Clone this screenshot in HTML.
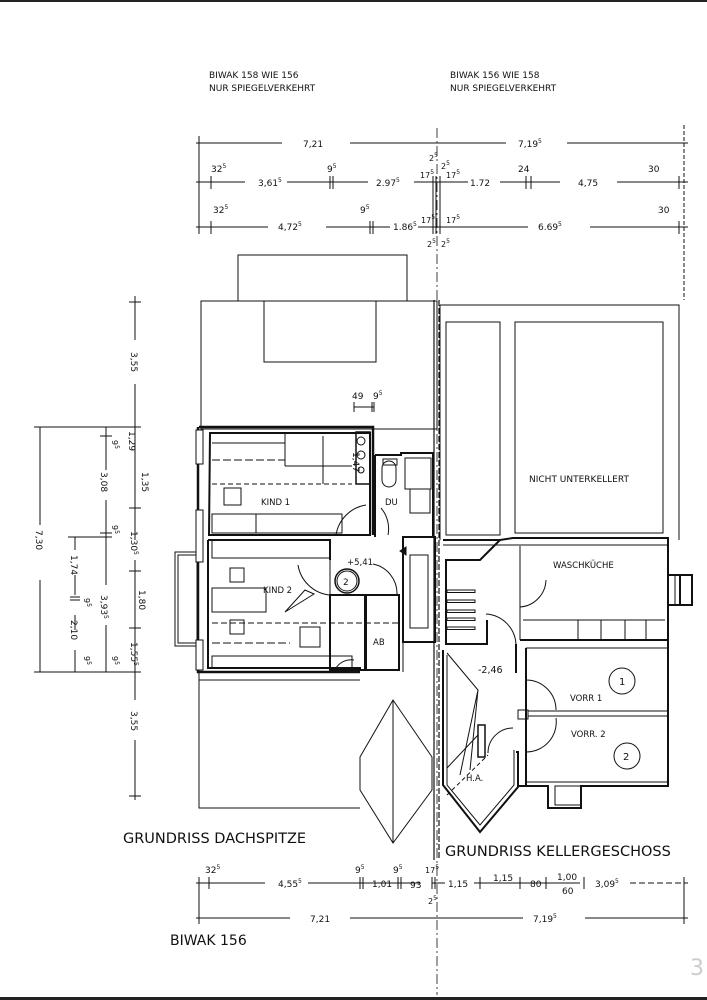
<!DOCTYPE html>
<html><head><meta charset="utf-8"><style>
html,body{margin:0;padding:0;background:#fff}
svg{display:block}
text{font-family:"DejaVu Sans","Liberation Sans",sans-serif;fill:#111}
</style></head><body>
<svg width="707" height="1000" viewBox="0 0 707 1000" xmlns="http://www.w3.org/2000/svg">
<rect x="0" y="0" width="707" height="2" fill="#222"/>
<rect x="0" y="997" width="707" height="3" fill="#222"/>
<text x="209" y="78" font-size="9">BIWAK 158 WIE 156</text>
<text x="209" y="91" font-size="9">NUR SPIEGELVERKEHRT</text>
<text x="450" y="78" font-size="9">BIWAK 156 WIE 158</text>
<text x="450" y="91" font-size="9">NUR SPIEGELVERKEHRT</text>

<g stroke="#111" stroke-width="1" fill="none">
<line x1="196" y1="143" x2="282" y2="143"/><line x1="350" y1="143" x2="506" y2="143"/><line x1="567" y1="143" x2="688" y2="143"/>
<line x1="196" y1="182" x2="245" y2="182"/><line x1="287" y1="182" x2="368" y2="182"/><line x1="414" y1="182" x2="468" y2="182"/><line x1="500" y1="182" x2="560" y2="182"/><line x1="617" y1="182" x2="688" y2="182"/>
<line x1="196" y1="227" x2="268" y2="227"/><line x1="326" y1="227" x2="390" y2="227"/><line x1="418" y1="227" x2="528" y2="227"/><line x1="590" y1="227" x2="688" y2="227"/>
<line x1="199" y1="136" x2="199" y2="234"/><line x1="684" y1="125" x2="684" y2="300" stroke-dasharray="4,2"/>
<line x1="211" y1="176" x2="211" y2="189"/><line x1="211" y1="221" x2="211" y2="234"/>
<line x1="330" y1="176" x2="330" y2="189"/><line x1="333" y1="176" x2="333" y2="189"/>
<line x1="370" y1="221" x2="370" y2="234"/><line x1="373" y1="221" x2="373" y2="234"/>
<line x1="526" y1="176" x2="526" y2="189"/><line x1="531" y1="176" x2="531" y2="189"/>
<line x1="679" y1="176" x2="679" y2="189"/><line x1="679" y1="221" x2="679" y2="234"/>
<line x1="433" y1="176" x2="433" y2="234"/><line x1="436" y1="176" x2="436" y2="234"/><line x1="440" y1="176" x2="440" y2="234"/>
<line x1="437" y1="128" x2="437" y2="995" stroke-dasharray="10,3,2,3" stroke-width="0.8"/>
</g>
<g font-size="9">
<text x="303" y="147">7,21</text><text x="518" y="147">7,19<tspan font-size="6" dy="-4">5</tspan></text>
<text x="211" y="172">32<tspan font-size="6" dy="-4">5</tspan></text>
<text x="258" y="186">3,61<tspan font-size="6" dy="-4">5</tspan></text>
<text x="327" y="172">9<tspan font-size="6" dy="-4">5</tspan></text>
<text x="376" y="186">2.97<tspan font-size="6" dy="-4">5</tspan></text>
<text x="429" y="161" font-size="8">2<tspan font-size="6" dy="-4">5</tspan></text>
<text x="420" y="178" font-size="8">17<tspan font-size="6" dy="-4">5</tspan></text>
<text x="441" y="169" font-size="8">2<tspan font-size="6" dy="-4">5</tspan></text>
<text x="446" y="178" font-size="8">17<tspan font-size="6" dy="-4">5</tspan></text>
<text x="470" y="186">1.72</text>
<text x="518" y="172">24</text>
<text x="578" y="186">4,75</text>
<text x="648" y="172">30</text>
<text x="213" y="213">32<tspan font-size="6" dy="-4">5</tspan></text>
<text x="278" y="230">4,72<tspan font-size="6" dy="-4">5</tspan></text>
<text x="360" y="213">9<tspan font-size="6" dy="-4">5</tspan></text>
<text x="393" y="230">1.86<tspan font-size="6" dy="-4">5</tspan></text>
<text x="421" y="223" font-size="8">17<tspan font-size="6" dy="-4">5</tspan></text>
<text x="446" y="223" font-size="8">17<tspan font-size="6" dy="-4">5</tspan></text>
<text x="538" y="230">6.69<tspan font-size="6" dy="-4">5</tspan></text>
<text x="658" y="213">30</text>
<text x="427" y="247" font-size="8">2<tspan font-size="6" dy="-4">5</tspan></text>
<text x="441" y="247" font-size="8">2<tspan font-size="6" dy="-4">5</tspan></text>
</g>

<g stroke="#111" stroke-width="1" fill="none">
<line x1="135" y1="296" x2="135" y2="340"/><line x1="135" y1="384" x2="135" y2="540"/><line x1="135" y1="560" x2="135" y2="700"/><line x1="135" y1="740" x2="135" y2="800"/>
<line x1="129" y1="302" x2="141" y2="302"/><line x1="129" y1="427" x2="141" y2="427"/><line x1="129" y1="508" x2="141" y2="508"/><line x1="129" y1="571" x2="141" y2="571"/><line x1="129" y1="628" x2="141" y2="628"/><line x1="129" y1="672" x2="141" y2="672"/><line x1="129" y1="796" x2="141" y2="796"/>
<line x1="34" y1="427" x2="140" y2="427"/><line x1="34" y1="672" x2="140" y2="672"/>
<line x1="40" y1="427" x2="40" y2="525"/><line x1="40" y1="580" x2="40" y2="672"/>
<line x1="106" y1="427" x2="106" y2="470"/><line x1="106" y1="500" x2="106" y2="585"/><line x1="106" y1="625" x2="106" y2="672"/>
<line x1="100" y1="533" x2="112" y2="533"/><line x1="100" y1="436" x2="112" y2="436"/>
<line x1="75" y1="537" x2="75" y2="550"/><line x1="75" y1="575" x2="75" y2="595"/><line x1="75" y1="615" x2="75" y2="630"/><line x1="75" y1="650" x2="75" y2="672"/>
<line x1="68" y1="537" x2="112" y2="537"/><line x1="70" y1="597" x2="80" y2="597"/><line x1="70" y1="600" x2="80" y2="600"/>
</g>
<g font-size="9">
<text transform="translate(131,352) rotate(90)">3,55</text>
<text transform="translate(131,711) rotate(90)">3,55</text>
<text transform="translate(129,431) rotate(90)">1,29</text>
<text transform="translate(142,472) rotate(90)">1,35</text>
<text transform="translate(131,531) rotate(90)">1,30<tspan font-size="6" dy="-3">5</tspan></text>
<text transform="translate(139,590) rotate(90)">1,80</text>
<text transform="translate(131,642) rotate(90)">1,55<tspan font-size="6" dy="-3">5</tspan></text>
<text transform="translate(101,472) rotate(90)">3,08</text>
<text transform="translate(101,595) rotate(90)">3,93<tspan font-size="6" dy="-3">5</tspan></text>
<text transform="translate(71,555) rotate(90)">1,74</text>
<text transform="translate(71,620) rotate(90)">2,10</text>
<text transform="translate(36,530) rotate(90)">7,30</text>
<text transform="translate(112,440) rotate(90)" font-size="8">9<tspan font-size="6" dy="-3">5</tspan></text>
<text transform="translate(112,525) rotate(90)" font-size="8">9<tspan font-size="6" dy="-3">5</tspan></text>
<text transform="translate(84,598) rotate(90)" font-size="8">9<tspan font-size="6" dy="-3">5</tspan></text>
<text transform="translate(84,656) rotate(90)" font-size="8">9<tspan font-size="6" dy="-3">5</tspan></text>
<text transform="translate(112,656) rotate(90)" font-size="8">9<tspan font-size="6" dy="-3">5</tspan></text>
</g>

<g stroke="#111" fill="none" stroke-width="1">
<rect x="238" y="255" width="169" height="46"/>
<rect x="201" y="301" width="236" height="128"/>
<rect x="264" y="301" width="112" height="61"/>
<line x1="354" y1="407" x2="374" y2="407"/>
<line x1="354" y1="402" x2="354" y2="412"/><line x1="372" y1="402" x2="372" y2="412"/><line x1="374" y1="402" x2="374" y2="412"/>
<path d="M199 427 H373 V535 M198 427 V672 H360" stroke-width="2.5"/>
<path d="M210 433 H370 V535 H209 Z" stroke-width="2"/>
<rect x="356" y="432" width="14" height="52" stroke-width="1.5"/>
<circle cx="361" cy="441" r="4"/><circle cx="361" cy="455" r="4"/><circle cx="361" cy="470" r="3"/>
<path d="M375 455 H401 V453 H433 V537 H403 M375 455 V537" stroke-width="2"/>
<line x1="285" y1="433" x2="285" y2="466"/><line x1="285" y1="466" x2="352" y2="466"/>
<line x1="212" y1="443" x2="285" y2="443"/>
<line x1="212" y1="484" x2="352" y2="484" stroke-dasharray="5,3"/>
<line x1="212" y1="460" x2="285" y2="460" stroke-dasharray="8,3"/>
<rect x="212" y="514" width="130" height="19"/><line x1="256" y1="514" x2="256" y2="533"/>
<rect x="224" y="488" width="17" height="17"/>
<line x1="323" y1="436" x2="323" y2="484"/>
<path d="M336 535 A36 36 0 0 1 366 505" /><path d="M388 535 A32 32 0 0 0 381 508"/>
<rect x="382" y="461" width="14" height="26" rx="7"/><rect x="383" y="459" width="14" height="6"/>
<rect x="405" y="458" width="26" height="31"/><rect x="410" y="489" width="20" height="24"/>
<path d="M208 540 H330 V560 M208 540 V668 H361" stroke-width="2"/>
<rect x="212" y="540" width="118" height="18"/>
<line x1="330" y1="560" x2="330" y2="595"/>
<path d="M298 565 A36 36 0 0 0 329 595"/>
<rect x="230" y="568" width="14" height="14"/><rect x="212" y="588" width="54" height="24"/>
<rect x="230" y="620" width="14" height="14"/><rect x="300" y="627" width="20" height="20"/>
<line x1="212" y1="623" x2="400" y2="623" stroke-dasharray="6,3"/>
<line x1="212" y1="643" x2="290" y2="643" stroke-dasharray="8,3"/>
<rect x="212" y="656" width="140" height="12"/>
<path d="M285 612 L305 590 L314 594 Z"/>
<rect x="330" y="595" width="35" height="75" stroke-width="2"/>
<rect x="366" y="595" width="33" height="75" stroke-width="2"/>
<path d="M336 668 A18 18 0 0 1 354 660"/>
<circle cx="347" cy="581" r="12" stroke-width="1.5"/><circle cx="347" cy="581" r="10"/>
<path d="M373 564 A30 30 0 0 1 397 594"/>
<path d="M403 537 H435 V642 H403 Z" stroke-width="2"/><rect x="410" y="555" width="18" height="73"/>
<path d="M406 555 L400 551 L406 547 Z" fill="#111"/>
<line x1="403" y1="642" x2="403" y2="672"/>
<rect x="175" y="552" width="22" height="94"/><rect x="178" y="555" width="19" height="88"/>
<rect x="196" y="430" width="7" height="34" fill="#fff"/><rect x="196" y="510" width="7" height="52" fill="#fff"/><rect x="196" y="640" width="7" height="30" fill="#fff"/>
<path d="M199 672 V808 H360"/><line x1="199" y1="680" x2="360" y2="680"/>
<path d="M360 757 L393 700 L432 757 L432 790 L393 843 L360 790 Z"/><line x1="393" y1="700" x2="393" y2="843"/>
<line x1="434" y1="300" x2="434" y2="860" stroke-width="1.2"/>
</g>
<g font-size="8.5">
<text x="261" y="505">KIND 1</text><text x="385" y="505">DU</text>
<text x="263" y="593">KIND 2</text><text x="373" y="645">AB</text>
<text x="347" y="565">+5,41</text><text x="343" y="585" font-size="9">2</text>
<text transform="translate(353,452) rotate(90)" font-size="9">1,47</text>
<text x="352" y="399" font-size="9">49</text><text x="373" y="399" font-size="9">9<tspan font-size="6" dy="-4">5</tspan></text>
</g>

<g stroke="#111" fill="none" stroke-width="1">
<path d="M440 305 H679 V540"/><line x1="440" y1="305" x2="440" y2="540"/>
<rect x="446" y="322" width="54" height="213"/><rect x="515" y="322" width="148" height="211"/>
<path d="M443 540 H500 L513 538 H668 V575 H680 V605 H692 V575 H680 M668 605 V786 H581 V808 H548 V786 H518 V752 H516 M500 540 L480 560 H446 V644 H487 V620" stroke-width="2"/>
<path d="M443 545 H498 L520 545 H668" stroke-width="1"/>
<rect x="668" y="575" width="24" height="30" stroke-width="2"/><line x1="675" y1="575" x2="675" y2="605"/>
<rect x="555" y="786" width="26" height="19"/>
<line x1="520" y1="546" x2="520" y2="640"/><line x1="523" y1="620" x2="665" y2="620"/>
<line x1="578" y1="620" x2="578" y2="640"/><line x1="601" y1="620" x2="601" y2="640"/><line x1="625" y1="620" x2="625" y2="640"/><line x1="646" y1="620" x2="646" y2="640"/>
<line x1="520" y1="640" x2="668" y2="640" stroke-width="2"/>
<rect x="447" y="590" width="28" height="2.5"/><rect x="447" y="600" width="28" height="2.5"/><rect x="447" y="610" width="28" height="2.5"/><rect x="447" y="618" width="28" height="2.5"/><rect x="447" y="627" width="28" height="2.5"/>
<path d="M520 607 A28 28 0 0 0 546 580"/><path d="M516 644 A32 32 0 0 0 486 614"/>
<path d="M443 650 V785 L480 832 L518 787 V752" stroke-width="2"/>
<path d="M447 655 V785 L480 825 L514 785 V750"/>
<line x1="516" y1="644" x2="516" y2="673" stroke-width="2"/><line x1="526" y1="648" x2="526" y2="785" stroke-width="2"/>
<line x1="526" y1="648" x2="668" y2="648"/><line x1="526" y1="782" x2="668" y2="782"/>
<rect x="518" y="710" width="10" height="9"/><line x1="528" y1="711" x2="668" y2="711"/><line x1="528" y1="716" x2="668" y2="716"/>
<path d="M526 680 A30 30 0 0 1 556 710"/><path d="M526 752 A30 30 0 0 0 556 718"/>
<path d="M488 753 A25 25 0 0 1 513 728"/>
<path d="M478 725 V757 H485 V725 Z" stroke-width="1.5"/>
<path d="M447 653 L478 690 L460 775 M478 690 L470 770"/>
<line x1="447" y1="768" x2="478" y2="735"/><line x1="447" y1="795" x2="488" y2="755" stroke-dasharray="4,3"/>
<circle cx="622" cy="681" r="13"/><circle cx="627" cy="756" r="13"/>
<line x1="439" y1="300" x2="439" y2="860" stroke-width="1.2" stroke-dasharray="6,2"/>
</g>
<g font-size="9">
<text x="529" y="482">NICHT UNTERKELLERT</text>
<text x="553" y="568" font-size="8.5">WASCHKÜCHE</text>
<text x="478" y="673" font-size="9.5">-2,46</text>
<text x="570" y="701" font-size="8.5">VORR 1</text>
<text x="571" y="737" font-size="8.5">VORR. 2</text>
<text x="466" y="781" font-size="8.5">H.A.</text>
<text x="619" y="685" font-size="10">1</text><text x="623" y="760" font-size="10">2</text>
</g>

<text x="123" y="843" font-size="14.5">GRUNDRISS DACHSPITZE</text>
<text x="445" y="856" font-size="14.5">GRUNDRISS KELLERGESCHOSS</text>

<g stroke="#111" stroke-width="1" fill="none">
<line x1="196" y1="883" x2="265" y2="883"/><line x1="308" y1="883" x2="357" y2="883"/><line x1="357" y1="883" x2="398" y2="883"/><line x1="398" y1="883" x2="420" y2="883"/><line x1="432" y1="883" x2="445" y2="883"/><line x1="474" y1="883" x2="580" y2="883"/><line x1="630" y1="883" x2="688" y2="883" stroke-dasharray="6,3"/>
<line x1="196" y1="918" x2="290" y2="918"/><line x1="350" y1="918" x2="523" y2="918"/><line x1="585" y1="918" x2="688" y2="918"/>
<line x1="199" y1="877" x2="199" y2="924"/><line x1="209" y1="877" x2="209" y2="889"/>
<line x1="360" y1="877" x2="360" y2="889"/><line x1="363" y1="877" x2="363" y2="889"/>
<line x1="398" y1="877" x2="398" y2="889"/><line x1="401" y1="877" x2="401" y2="889"/>
<line x1="432" y1="877" x2="432" y2="889"/><line x1="435" y1="877" x2="435" y2="889"/>
<line x1="480" y1="877" x2="480" y2="889"/><line x1="520" y1="877" x2="520" y2="889"/><line x1="546" y1="877" x2="546" y2="889"/><line x1="584" y1="877" x2="584" y2="889"/>
<line x1="684" y1="877" x2="684" y2="924"/>
<line x1="561" y1="883" x2="580" y2="883"/>
</g>
<g font-size="9">
<text x="205" y="873">32<tspan font-size="6" dy="-4">5</tspan></text>
<text x="278" y="887">4,55<tspan font-size="6" dy="-4">5</tspan></text>
<text x="355" y="873">9<tspan font-size="6" dy="-4">5</tspan></text>
<text x="393" y="873">9<tspan font-size="6" dy="-4">5</tspan></text>
<text x="425" y="873" font-size="8">17<tspan font-size="6" dy="-4">5</tspan></text>
<text x="372" y="887">1,01</text><text x="410" y="888">93</text>
<text x="448" y="887">1,15</text><text x="493" y="881">1,15</text>
<text x="530" y="887">80</text><text x="557" y="880">1,00</text><text x="562" y="894">60</text>
<text x="595" y="887">3,09<tspan font-size="6" dy="-4">5</tspan></text>
<text x="428" y="904" font-size="8">2<tspan font-size="6" dy="-4">5</tspan></text>
<text x="310" y="922">7,21</text><text x="533" y="922">7,19<tspan font-size="6" dy="-4">5</tspan></text>
</g>
<text x="170" y="945" font-size="14">BIWAK 156</text>
<text x="690" y="975" font-size="22" style="fill:#ccc">3</text>
</svg>
</body></html>
